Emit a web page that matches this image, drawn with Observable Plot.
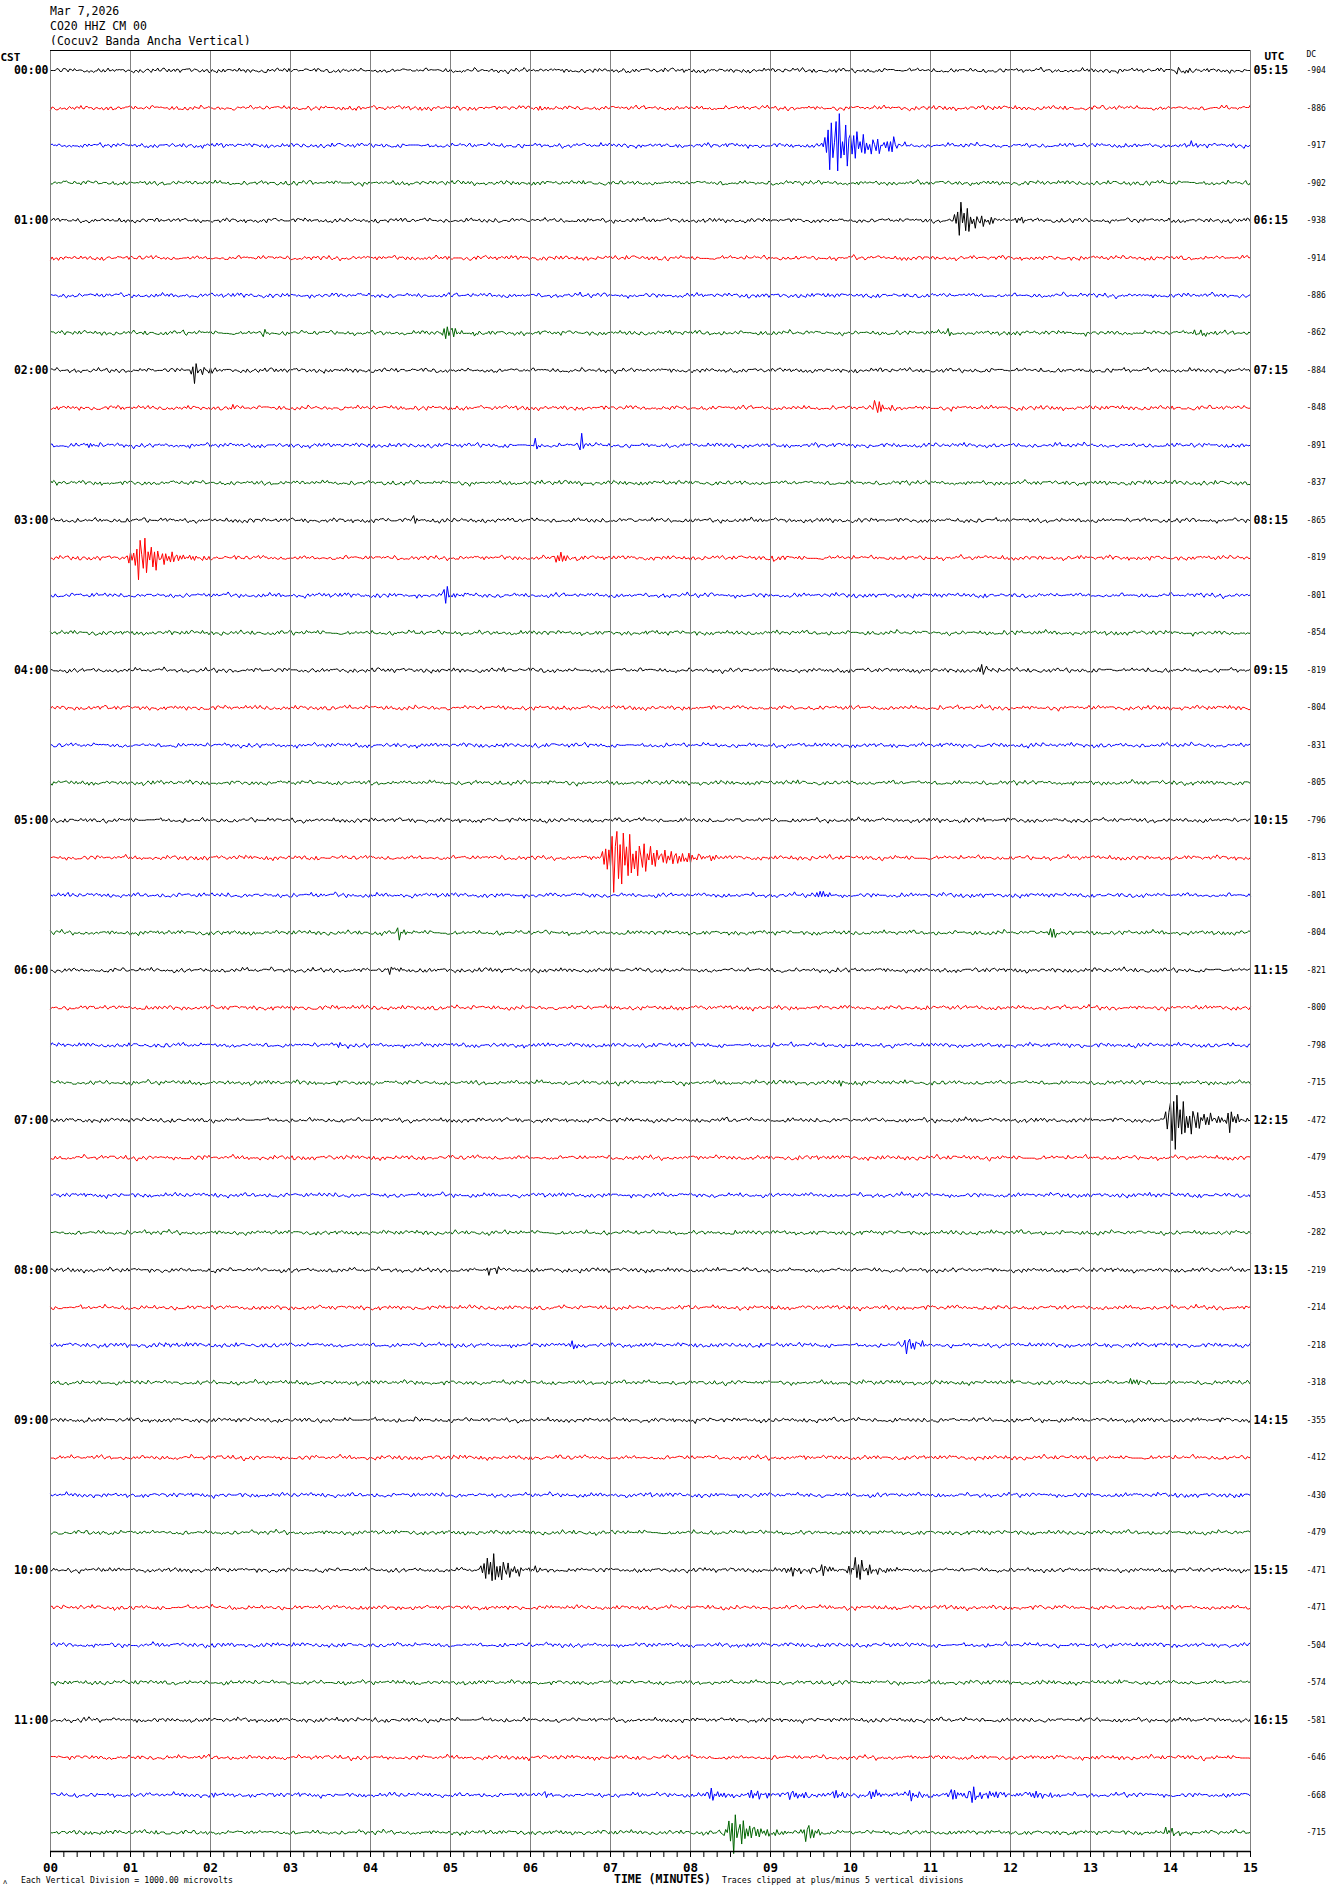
<!DOCTYPE html>
<html><head><meta charset="utf-8">
<script src="https://cdn.jsdelivr.net/npm/d3@7"></script>
<script src="https://cdn.jsdelivr.net/npm/@observablehq/plot@0.6"></script>
<style>
body{margin:0;background:#fff;width:1330px;height:1894px;position:relative;overflow:hidden;font-family:"DejaVu Sans Mono",monospace;color:#000}
#hdr{position:absolute;left:50px;top:4px;font-size:11.5px;line-height:15px;white-space:pre}
#chart{position:absolute;left:0;top:45px}
.cap{position:absolute;white-space:pre}
</style></head><body>
<div id="hdr"></div>
<div id="chart"></div>
<div class="cap" id="logo" style="left:3px;top:1877px;font-size:7px;line-height:10px"></div>
<div class="cap" id="cap1" style="left:21px;top:1875px;font-size:8.2px;line-height:10px"></div>
<div class="cap" id="cap2" style="left:614px;top:1872px;font-size:11.5px;line-height:14px;font-weight:bold"></div>
<div class="cap" id="cap3" style="left:722px;top:1875px;font-size:8.2px;line-height:10px"></div>
<script>
// ---------- text ----------
const titleLines = ["Mar 7,2026", "CO20 HHZ CM 00", "(Cocuy2 Banda Ancha Vertical)"];
const leftHeader = "CST";
const rightHeader = "UTC";
const dcHeader = "DC";
const cstLabels = ["00:00","01:00","02:00","03:00","04:00","05:00","06:00","07:00","08:00","09:00","10:00","11:00"];
const utcLabels = ["05:15","06:15","07:15","08:15","09:15","10:15","11:15","12:15","13:15","14:15","15:15","16:15"];
const dcValues = [-904,-886,-917,-902,-938,-914,-886,-862,-884,-848,-891,-837,-865,-819,-801,-854,
                  -819,-804,-831,-805,-796,-813,-801,-804,-821,-800,-798,-715,-472,-479,-453,-282,
                  -219,-214,-218,-318,-355,-412,-430,-479,-471,-471,-504,-574,-581,-646,-668,-715];
const minuteLabels = ["00","01","02","03","04","05","06","07","08","09","10","11","12","13","14","15"];
const xTitle = "TIME (MINUTES)";
const caption1 = "Each Vertical Division = 1000.00 microvolts";
const caption2 = "Traces clipped at plus/minus 5 vertical divisions";
const traceColors = ["#000000","#ff0000","#0000ff","#006400"];

// ---------- background noise patterns ----------
const noiseA = [0,2,-1,1,3,0,-2,-1,1,2,-1,-3,0,1,-1,2,1,-2,0,3,1,-1,-2,1,0,-1,2,-2,-1,1,3,0,-1,1,-2,0,2,-1,1,0,-3];
const noiseB = [1,-1,2,0,-2,1,-1,0,2,-1,-2,1,0,1,-2,2,0,-1,1,-1,2,1,-2,0,-1,1,0,-2,2,-1,0];
const noiseC = [0,1,2,1,0,-1,-2,-1,0,1,1,0,-1,-1,-2,0,1,2,0];
// event oscillation and envelope patterns
const oscPattern = [0.4,-1,0.7,0.2,-0.6,1,-0.9,0.3,-0.2,0.8,-0.7,0.5,-1,0.9,-0.3,0.1,0.6,-0.8,1,-0.5,
                    0.2,-0.4,0.9,-1,0.3,0.7,-0.6,0.5,-0.9,0.8,-0.2,0.4,-0.7,1,-0.8,0.2,-0.5];
const envPattern = [0.25,0.7,1,0.85,0.7,0.55,0.45,0.38,0.32,0.27,0.23,0.2,0.17,0.15,0.13,0.11,0.09,0.07,0.05,0.04];

// ---------- events: trace index, start (min), duration (min), peak amplitude (trace spacings) ----------
const evTrace = [0,1,2,2,2,4,4,7,7,7,7,8,8,9,9,10,10,10,12,13,13,13,14,16,16,16,21,22,23,23,24,24,26,27,28,28,32,34,34,34,35,36,
                 40,40,40,40,44,46,46,46,46,46,46,46,46,46,46,46,46,47,47,47];
const evStart = [14.05,6.1,9.66,10.5,14.2,11.3,12.05,2.65,4.85,11.2,14.3,1.75,12.8,2.25,10.28,0.42,6.03,6.62,4.52,0.98,6.3,9.0,4.9,11.6,3.25,9.02,6.88,9.57,4.33,12.45,4.2,9.12,3.6,9.85,13.93,14.7,5.4,1.45,6.45,10.65,13.48,4.55,
                 5.37,9.2,9.55,9.95,0.4,2.0,6.15,8.2,8.7,9.2,9.7,10.2,10.7,11.2,11.45,11.7,12.2,8.42,9.4,13.9];
const evDur = [0.4,0.25,1.1,0.3,0.3,0.6,0.2,0.2,0.7,0.2,0.4,0.35,0.2,0.2,0.4,0.25,0.25,0.15,0.15,1.0,0.35,0.45,0.35,0.35,0.1,0.1,1.5,0.35,0.25,0.4,0.45,0.1,0.2,0.15,0.8,0.3,0.6,0.35,0.35,0.5,0.3,0.1,
               0.9,0.5,0.5,0.8,0.1,0.2,0.3,0.6,0.6,0.6,0.6,0.6,0.6,0.6,0.4,0.6,0.7,0.9,0.4,0.6];
const evAmp = [0.12,0.1,1.0,0.2,0.08,0.61,0.25,0.12,0.18,0.08,0.12,0.35,0.06,0.08,0.22,0.15,0.14,0.33,0.1,0.65,0.25,0.1,0.25,0.16,0.06,0.06,0.95,0.18,0.22,0.16,0.12,0.06,0.06,0.08,1.0,0.4,0.1,0.12,0.15,0.25,0.16,0.06,
               0.5,0.18,0.18,0.34,0.08,0.08,0.12,0.16,0.16,0.16,0.16,0.16,0.16,0.16,0.3,0.15,0.12,0.55,0.33,0.14];

// ---------- build the traces ----------
const N_TRACES = 48, MINUTES = 15, STEP = 1/50, NOISE_AMP = 0.013;
const nSamples = Math.round(MINUTES / STEP);
const rows = [];
for (let i = 0; i < N_TRACES; i++) {
  const evs = evTrace.map((tr, k) => k).filter(k => evTrace[k] === i);
  for (let j = 0; j <= nSamples; j++) {
    const t = j * STEP;
    let v = NOISE_AMP * (noiseA[(j + 7 * i) % noiseA.length] + noiseB[(j + 11 * i + 3) % noiseB.length]
                         + noiseC[(Math.floor(j / 4) + 5 * i) % noiseC.length]);
    for (const k of evs) {
      const u = (t - evStart[k]) / evDur[k];
      if (u >= 0 && u < 1) {
        v += evAmp[k] * envPattern[Math.floor(u * envPattern.length)] * oscPattern[(j + 3 * k) % oscPattern.length];
      }
    }
    rows.push({i, t, y: i - v, c: traceColors[i % 4]});
  }
}

// ---------- layout ----------
const Y_TOP = -0.5335, Y_BOTTOM = 47.507;
const minorTicks = d3.range(0, MINUTES * 6 + 1).map(k => k / 6);

const chart = Plot.plot({
  width: 1330, height: 1830,
  marginLeft: 50, marginRight: 80, marginTop: 5, marginBottom: 24,
  x: {domain: [0, MINUTES], axis: null, label: null},
  y: {domain: [Y_TOP, Y_BOTTOM], reverse: true, axis: null, label: null},
  color: {type: "identity"},
  style: {background: "#fff", fontFamily: "DejaVu Sans Mono", color: "#000"},
  marks: [
    Plot.line(rows, {x: "t", y: "y", z: "i", stroke: "c", strokeWidth: 1}),
    Plot.ruleX(d3.range(0, MINUTES + 1), {stroke: "#808080", strokeWidth: 1}),
    Plot.ruleY([Y_TOP], {stroke: "#000", strokeWidth: 1}),
    Plot.ruleY([Y_BOTTOM], {stroke: "#000", strokeWidth: 1.6}),
    Plot.axisX(minorTicks, {
      anchor: "bottom", tickSize: 6, tickPadding: 6, label: null,
      tickFormat: d => Number.isInteger(d) ? minuteLabels[d] : "",
      fontSize: 12.5, fontWeight: "bold", stroke: "#000"
    }),
    Plot.text(cstLabels, {frameAnchor: "left", y: (d, k) => k * 4, text: d => d, dx: -2,
      textAnchor: "end", fontSize: 11.5, fontWeight: "bold"}),
    Plot.text(utcLabels, {frameAnchor: "right", y: (d, k) => k * 4, text: d => d, dx: 3,
      textAnchor: "start", fontSize: 11.5, fontWeight: "bold"}),
    Plot.text(dcValues, {frameAnchor: "right", y: (d, k) => k, text: d => String(d), dx: 56,
      textAnchor: "start", fontSize: 8}),
    Plot.text([leftHeader], {frameAnchor: "top-left", text: d => d, dx: -50, dy: 7,
      textAnchor: "start", lineAnchor: "middle", fontSize: 11, fontWeight: "bold"}),
    Plot.text([rightHeader], {frameAnchor: "top-right", text: d => d, dx: 14, dy: 6,
      textAnchor: "start", lineAnchor: "middle", fontSize: 11, fontWeight: "bold"}),
    Plot.text([dcHeader], {frameAnchor: "top-right", text: d => d, dx: 56, dy: 4,
      textAnchor: "start", lineAnchor: "middle", fontSize: 8})
  ]
});
document.getElementById("chart").appendChild(chart);
document.getElementById("hdr").textContent = titleLines.join("\n");
document.getElementById("logo").textContent = "ʌ";
document.getElementById("cap1").textContent = caption1;
document.getElementById("cap2").textContent = xTitle;
document.getElementById("cap3").textContent = caption2;
</script>
</body></html>
